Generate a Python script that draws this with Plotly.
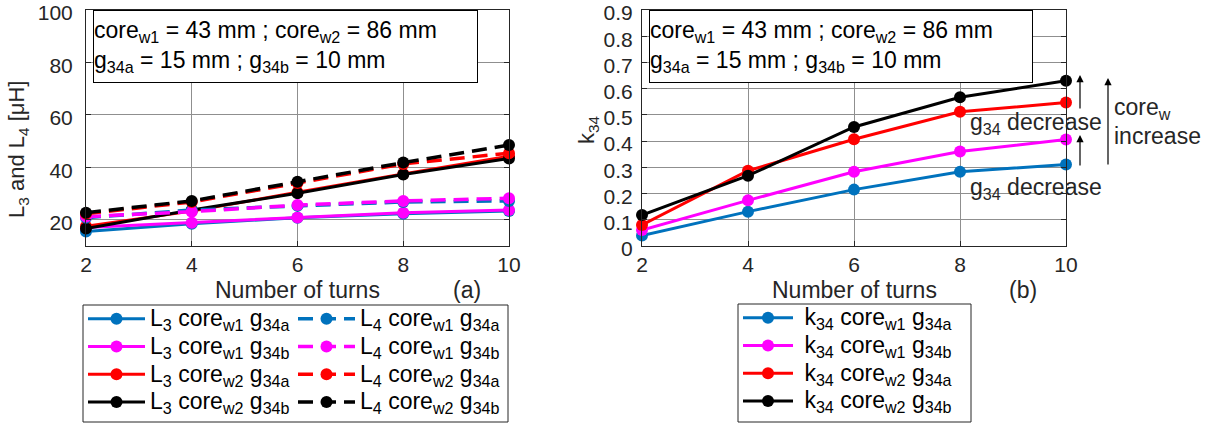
import plotly.graph_objects as go

W, H = 1210, 425
def px(x): return x / W
def py(y): return 1 - y / H

turns = [2, 4, 6, 8, 10]

# Left panel (a): inductances [uH]
L3_w1_a = [15.5, 18.5, 20.8, 22.3, 23.3]
L3_w1_b = [17.1, 18.9, 20.9, 22.7, 23.7]
L3_w2_a = [17.5, 23.3, 30.5, 37.5, 44.2]
L3_w2_b = [16.7, 23.7, 30.1, 37.3, 43.4]
L4_w1_a = [20.8, 23.7, 25.3, 26.8, 27.2]
L4_w1_b = [21.2, 23.1, 25.6, 27.2, 28.2]
L4_w2_a = [22.3, 26.8, 34.0, 41.3, 45.4]
L4_w2_b = [22.7, 27.2, 34.5, 41.8, 48.5]

# Right panel (b): coupling k34
k34_w1_a = [0.04, 0.131, 0.215, 0.283, 0.311]
k34_w1_b = [0.061, 0.174, 0.283, 0.360, 0.406]
k34_w2_a = [0.080, 0.287, 0.407, 0.512, 0.547]
k34_w2_b = [0.118, 0.268, 0.454, 0.567, 0.630]

BLUE, MAG, RED, BLK = "#0072BD", "#FF00FF", "#FF0000", "#000000"
FONT = "Liberation Sans, Arial, sans-serif"
sub = lambda s: "<sub>%s</sub>" % s

def lab(p, c, g, pre=""):
    return '<span style="font-size:23px">%s%s core%s g%s</span>' % (pre, p, sub(c), sub(g))

fig = go.Figure()

DASH = "15px,8px"
left_series = [
    (L3_w1_a, BLUE, "solid", lab("L" + sub("3"), "w1", "34a"), "legend"),
    (L3_w1_b, MAG, "solid", lab("L" + sub("3"), "w1", "34b"), "legend"),
    (L3_w2_a, RED, "solid", lab("L" + sub("3"), "w2", "34a"), "legend"),
    (L3_w2_b, BLK, "solid", lab("L" + sub("3"), "w2", "34b"), "legend"),
    (L4_w1_a, BLUE, DASH, lab("L" + sub("4"), "w1", "34a"), "legend2"),
    (L4_w1_b, MAG, DASH, lab("L" + sub("4"), "w1", "34b"), "legend2"),
    (L4_w2_a, RED, DASH, lab("L" + sub("4"), "w2", "34a"), "legend2"),
    (L4_w2_b, BLK, DASH, lab("L" + sub("4"), "w2", "34b"), "legend2"),
]
for ys, col, dash, name, lg in left_series:
    fig.add_trace(go.Scatter(
        x=turns, y=ys, mode="lines+markers", name=name, legend=lg,
        line=dict(color=col, width=3.5 if dash != "solid" else 3, dash=dash),
        marker=dict(color=col, size=12), cliponaxis=False,
        xaxis="x", yaxis="y"))

right_series = [
    (k34_w1_a, BLUE, lab("k" + sub("34"), "w1", "34a", pre="\u00a0")),
    (k34_w1_b, MAG, lab("k" + sub("34"), "w1", "34b", pre="\u00a0")),
    (k34_w2_a, RED, lab("k" + sub("34"), "w2", "34a", pre="\u00a0")),
    (k34_w2_b, BLK, lab("k" + sub("34"), "w2", "34b", pre="\u00a0")),
]
for ys, col, name in right_series:
    fig.add_trace(go.Scatter(
        x=turns, y=ys, mode="lines+markers", name=name, legend="legend3",
        line=dict(color=col, width=3), marker=dict(color=col, size=12),
        cliponaxis=False, xaxis="x2", yaxis="y2"))

ax_common = dict(showline=True, linecolor="#262626", linewidth=1, mirror="ticks",
                 ticks="inside", ticklen=5, tickcolor="#262626", automargin=False,
                 ticklabeloverflow="allow",
                 showgrid=True, gridcolor="#8f8f8f", gridwidth=1, zeroline=False,
                 tickfont=dict(family=FONT, size=21, color="#262626"))

ydom = [py(246), py(10)]
leg_common = dict(xanchor="left", yanchor="top", xref="container", yref="container",
                  bgcolor="rgba(0,0,0,0)", borderwidth=0, tracegroupgap=0,
                  font=dict(family=FONT, size=19, color="black"))
fig.update_layout(
    width=W, height=H, margin=dict(l=0, r=0, t=0, b=0, pad=0, autoexpand=False),
    paper_bgcolor="white", plot_bgcolor="white",
    font=dict(family=FONT, size=20, color="black"),
    xaxis=dict(domain=[px(86), px(509)], range=[2, 10], tickvals=[2, 4, 6, 8, 10],
               anchor="y", ticklabelstandoff=0, **ax_common),
    yaxis=dict(domain=ydom, range=[10, 100], tickvals=[20, 40, 60, 80, 100],
               anchor="x", ticklabelstandoff=8, ticklabelshift=3, **ax_common),
    xaxis2=dict(domain=[px(642), px(1066)], range=[2, 10], tickvals=[2, 4, 6, 8, 10],
                anchor="y2", ticklabelstandoff=0, **ax_common),
    yaxis2=dict(domain=ydom, range=[0, 0.9],
                tickvals=[0, 0.1, 0.2, 0.3, 0.4, 0.5, 0.6, 0.7, 0.8, 0.9],
                ticktext=["0", "0.1", "0.2", "0.3", "0.4", "0.5", "0.6", "0.7", "0.8", "0.9"],
                anchor="x2", ticklabelstandoff=4, ticklabelshift=3, **ax_common),
    legend=dict(x=px(83), y=py(300), itemwidth=57, **leg_common),
    legend2=dict(x=px(293), y=py(300), itemwidth=57, **leg_common),
    legend3=dict(x=px(738), y=py(299), itemwidth=50, **leg_common),
    showlegend=True,
)

# legend borders
fig.add_shape(type="rect", xref="paper", yref="paper", x0=px(83), x1=px(508),
              y0=py(422), y1=py(305), line=dict(color="#262626", width=1))
fig.add_shape(type="rect", xref="paper", yref="paper", x0=px(738), x1=px(971),
              y0=py(422), y1=py(304), line=dict(color="#262626", width=1))

box_txt = ("core" + sub("w1") + " = 43 mm ; core" + sub("w2") + " = 86 mm<br>"
           "g" + sub("34a") + " = 15 mm ; g" + sub("34b") + " = 10 mm")
for x0, x1 in [(93, 478), (649, 1033)]:
    fig.add_annotation(xref="paper", yref="paper", x=px(x0), y=py(10),
                       xanchor="left", yanchor="top", showarrow=False,
                       text=box_txt, align="left", valign="middle",
                       width=x1 - x0 - 2, height=71, borderpad=0,
                       bordercolor="black", borderwidth=1, bgcolor="white",
                       font=dict(family=FONT, size=23, color="black"))

def txt(x, y, s, size=22, xanchor="center", angle=0):
    fig.add_annotation(xref="paper", yref="paper", x=px(x), y=py(y), text=s,
                       showarrow=False, xanchor=xanchor, yanchor="middle",
                       textangle=angle, font=dict(family=FONT, size=size, color="#262626"))

txt(297, 290, "Number of turns", size=23)
txt(467, 290, "(a)", size=23)
txt(854, 290, "Number of turns", size=23)
txt(1023, 290, "(b)", size=23)
txt(18, 150, "L" + sub("3") + " and L" + sub("4") + " [μH]", angle=-90)
txt(588, 130, "k" + sub("34"), angle=-90)
txt(968, 123, "g" + sub("34") + " decrease", size=23, xanchor="left")
txt(968, 188, "g" + sub("34") + " decrease", size=23, xanchor="left")
txt(1112, 108, "core" + sub("w"), size=23, xanchor="left")
txt(1112, 136, "increase", size=23, xanchor="left")

for x, yh, yt in [(1080, 75, 110), (1080, 135, 167), (1108, 78, 166)]:
    fig.add_annotation(xref="paper", yref="paper", x=px(x), y=py(yh),
                       ax=0, ay=yt - yh, axref="pixel", ayref="pixel",
                       text="", showarrow=True, arrowhead=2, arrowsize=1.2,
                       arrowwidth=1.2, arrowcolor="black", standoff=0, startstandoff=0)

fig.write_html("out.html")
